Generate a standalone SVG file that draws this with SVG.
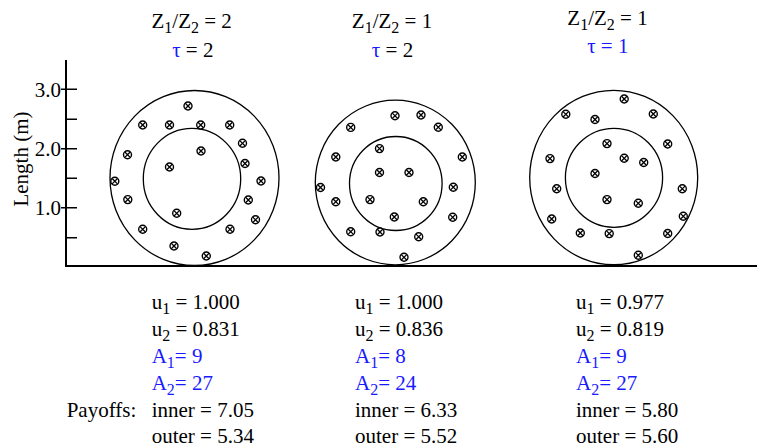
<svg xmlns="http://www.w3.org/2000/svg" xmlns:xlink="http://www.w3.org/1999/xlink" width="757" height="448" viewBox="0 0 757 448">
<style>
  text { font-family: "Liberation Serif", "Times New Roman", serif; font-size: 21px; fill: #000; }
  .blue { fill: #1a1aff; }
  .ring { fill: none; stroke: #000; stroke-width: 1.3; }
  .axis { fill: none; stroke: #000; stroke-width: 2; }
  .tick { fill: none; stroke: #000; stroke-width: 1.5; }
  .sub { font-size: 16px; }
</style>
<defs>
  <g id="w">
    <circle r="4" fill="#fff" stroke="#000" stroke-width="1.4"/>
    <path d="M-2.7,-2.7L2.7,2.7M-2.7,2.7L2.7,-2.7" stroke="#000" stroke-width="1.3"/>
  </g>
</defs>

<g id="axes">
  <path class="axis" d="M66,60V266H757"/>
  <path class="tick" d="M61,89.3H77M61,148.7H77M61,207.7H77M66,119.3H77M66,178.3H77M66,237.7H77"/>
  <text x="61" y="96.5" text-anchor="end">3.0</text>
  <text x="61" y="155.9" text-anchor="end">2.0</text>
  <text x="61" y="214.9" text-anchor="end">1.0</text>
  <text transform="translate(28,159) rotate(-90)" text-anchor="middle">Length (m)</text>
</g>

<g id="title1">
  <text x="191.7" y="28.3" text-anchor="middle">Z<tspan class="sub" dy="5">1</tspan><tspan dy="-5">/Z</tspan><tspan class="sub" dy="5">2</tspan><tspan dy="-5"> = 2</tspan></text>
  <text x="192.8" y="56.7" text-anchor="middle"><tspan class="blue">τ</tspan> = 2</text>
</g>
<g id="title2">
  <text x="392" y="28.3" text-anchor="middle">Z<tspan class="sub" dy="5">1</tspan><tspan dy="-5">/Z</tspan><tspan class="sub" dy="5">2</tspan><tspan dy="-5"> = 1</tspan></text>
  <text x="392.5" y="56.7" text-anchor="middle"><tspan class="blue">τ</tspan> = 2</text>
</g>
<g id="title3">
  <text x="607.5" y="25" text-anchor="middle">Z<tspan class="sub" dy="5">1</tspan><tspan dy="-5">/Z</tspan><tspan class="sub" dy="5">2</tspan><tspan dy="-5"> = 1</tspan></text>
  <text x="607.8" y="53.3" text-anchor="middle" class="blue">τ = 1</text>
</g>

<g id="cable1">
  <ellipse class="ring" cx="194.5" cy="178" rx="84.5" ry="87.5"/>
  <ellipse class="ring" cx="192" cy="178.8" rx="48.7" ry="50.5"/>
  <use xlink:href="#w" x="188" y="106"/>
  <use xlink:href="#w" x="142.7" y="125"/>
  <use xlink:href="#w" x="169.5" y="125"/>
  <use xlink:href="#w" x="200.7" y="125"/>
  <use xlink:href="#w" x="229.7" y="125"/>
  <use xlink:href="#w" x="242.5" y="143.3"/>
  <use xlink:href="#w" x="127.5" y="154.7"/>
  <use xlink:href="#w" x="201" y="151"/>
  <use xlink:href="#w" x="245" y="163.5"/>
  <use xlink:href="#w" x="169.5" y="167"/>
  <use xlink:href="#w" x="114.8" y="181.2"/>
  <use xlink:href="#w" x="261" y="181"/>
  <use xlink:href="#w" x="127.8" y="199.6"/>
  <use xlink:href="#w" x="248.3" y="200"/>
  <use xlink:href="#w" x="176.7" y="213.3"/>
  <use xlink:href="#w" x="255.5" y="219.8"/>
  <use xlink:href="#w" x="142.7" y="229.3"/>
  <use xlink:href="#w" x="230" y="229.3"/>
  <use xlink:href="#w" x="174" y="246"/>
  <use xlink:href="#w" x="206.3" y="256"/>
</g>

<g id="cable2">
  <ellipse class="ring" cx="395.3" cy="182.5" rx="80" ry="82.3"/>
  <ellipse class="ring" cx="395.8" cy="183.5" rx="46.3" ry="47"/>
  <use xlink:href="#w" x="395" y="115.8"/>
  <use xlink:href="#w" x="421" y="115"/>
  <use xlink:href="#w" x="438.3" y="127.2"/>
  <use xlink:href="#w" x="350.7" y="127.4"/>
  <use xlink:href="#w" x="379.5" y="148.6"/>
  <use xlink:href="#w" x="335.8" y="157"/>
  <use xlink:href="#w" x="462.3" y="157"/>
  <use xlink:href="#w" x="379.5" y="172.5"/>
  <use xlink:href="#w" x="409" y="172.5"/>
  <use xlink:href="#w" x="320.5" y="187.5"/>
  <use xlink:href="#w" x="453.3" y="187.2"/>
  <use xlink:href="#w" x="370" y="199.6"/>
  <use xlink:href="#w" x="335.8" y="201.7"/>
  <use xlink:href="#w" x="423.3" y="201.7"/>
  <use xlink:href="#w" x="394.3" y="217"/>
  <use xlink:href="#w" x="452.7" y="217.3"/>
  <use xlink:href="#w" x="350.7" y="231.7"/>
  <use xlink:href="#w" x="380" y="232"/>
  <use xlink:href="#w" x="418.7" y="236.8"/>
  <use xlink:href="#w" x="404" y="257.3"/>
</g>

<g id="cable3">
  <ellipse class="ring" cx="613.7" cy="177.5" rx="84" ry="87.2"/>
  <ellipse class="ring" cx="614" cy="177.8" rx="48.6" ry="49.5"/>
  <use xlink:href="#w" x="624.2" y="99"/>
  <use xlink:href="#w" x="565.8" y="114.3"/>
  <use xlink:href="#w" x="653.3" y="114"/>
  <use xlink:href="#w" x="595" y="119.5"/>
  <use xlink:href="#w" x="607" y="143.6"/>
  <use xlink:href="#w" x="667.7" y="144"/>
  <use xlink:href="#w" x="550" y="158.6"/>
  <use xlink:href="#w" x="624.2" y="158.3"/>
  <use xlink:href="#w" x="643.7" y="162.5"/>
  <use xlink:href="#w" x="595" y="173.5"/>
  <use xlink:href="#w" x="556.7" y="188.8"/>
  <use xlink:href="#w" x="682.3" y="188.8"/>
  <use xlink:href="#w" x="607" y="199.6"/>
  <use xlink:href="#w" x="638.3" y="203.3"/>
  <use xlink:href="#w" x="683.3" y="216.3"/>
  <use xlink:href="#w" x="551.7" y="219"/>
  <use xlink:href="#w" x="580.3" y="233"/>
  <use xlink:href="#w" x="609.2" y="233.6"/>
  <use xlink:href="#w" x="667.7" y="233.5"/>
  <use xlink:href="#w" x="638.3" y="255.3"/>
</g>

<g id="results1">
  <text x="151.7" y="308.5">u<tspan class="sub" dy="5">1</tspan><tspan dy="-5"> = 1.000</tspan></text>
  <text x="151.7" y="335.5">u<tspan class="sub" dy="5">2</tspan><tspan dy="-5"> = 0.831</tspan></text>
  <text x="151.7" y="362.5" class="blue">A<tspan class="sub" dy="5">1</tspan><tspan dy="-5">= 9</tspan></text>
  <text x="151.7" y="390" class="blue">A<tspan class="sub" dy="5">2</tspan><tspan dy="-5">= 27</tspan></text>
  <text x="151.7" y="417">inner = 7.05</text>
  <text x="151.7" y="443">outer = 5.34</text>
</g>
<g id="results2">
  <text x="355" y="308.5">u<tspan class="sub" dy="5">1</tspan><tspan dy="-5"> = 1.000</tspan></text>
  <text x="355" y="335.5">u<tspan class="sub" dy="5">2</tspan><tspan dy="-5"> = 0.836</tspan></text>
  <text x="355" y="362.5" class="blue">A<tspan class="sub" dy="5">1</tspan><tspan dy="-5">= 8</tspan></text>
  <text x="355" y="390" class="blue">A<tspan class="sub" dy="5">2</tspan><tspan dy="-5">= 24</tspan></text>
  <text x="355" y="417">inner = 6.33</text>
  <text x="355" y="443">outer = 5.52</text>
</g>
<g id="results3">
  <text x="576" y="308.5">u<tspan class="sub" dy="5">1</tspan><tspan dy="-5"> = 0.977</tspan></text>
  <text x="576" y="335.5">u<tspan class="sub" dy="5">2</tspan><tspan dy="-5"> = 0.819</tspan></text>
  <text x="576" y="362.5" class="blue">A<tspan class="sub" dy="5">1</tspan><tspan dy="-5">= 9</tspan></text>
  <text x="576" y="390" class="blue">A<tspan class="sub" dy="5">2</tspan><tspan dy="-5">= 27</tspan></text>
  <text x="576" y="417">inner = 5.80</text>
  <text x="576" y="443">outer = 5.60</text>
</g>
<g id="payoffs-label">
  <text x="66.7" y="417">Payoffs:</text>
</g>
</svg>
